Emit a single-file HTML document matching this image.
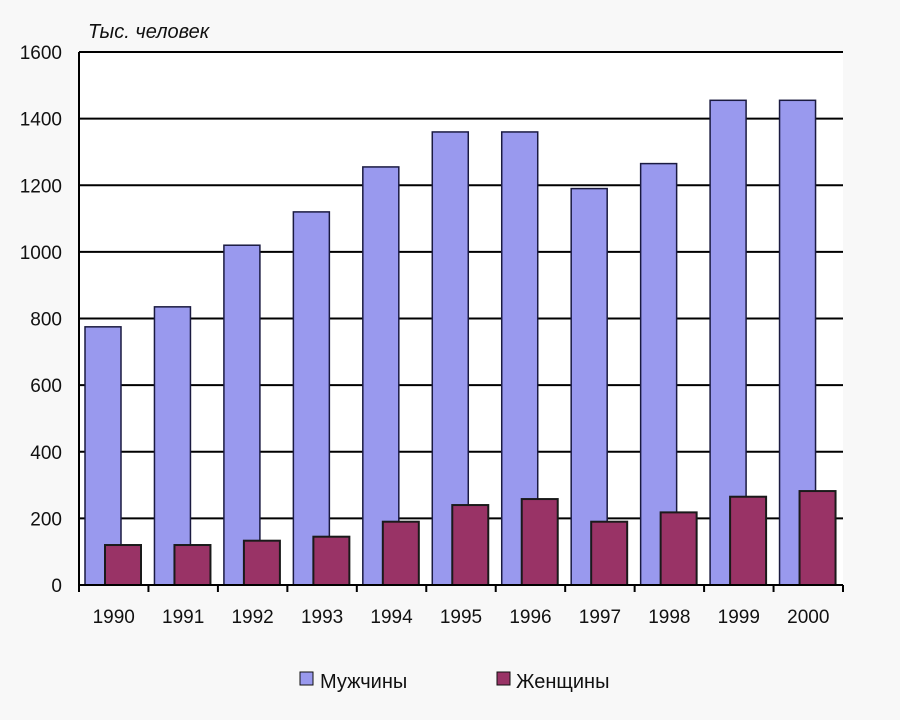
<!DOCTYPE html>
<html><head><meta charset="utf-8"><style>
body{margin:0;background:#f8f8f8;}
svg{display:block;font-family:"Liberation Sans",sans-serif;}
</style></head><body>
<svg id="chart" width="900" height="720">
<rect x="79" y="52" width="764" height="533" fill="#fff"/>
<text x="88" y="38" font-size="20" font-style="italic" fill="#111">Тыс. человек</text>
<g id="grid"></g><g id="bars"></g><g id="axes"></g>
<g>
<rect x="300" y="672" width="13" height="13" fill="#9999ee" stroke="#111"/>
<text x="320" y="688" font-size="20" fill="#111">Мужчины</text>
<rect x="497" y="672" width="13" height="13" fill="#993366" stroke="#111"/>
<text x="516" y="688" font-size="20" fill="#111">Женщины</text>
</g>
</svg>
<script>
const categories=["1990","1991","1992","1993","1994","1995","1996","1997","1998","1999","2000"];
const men=[775,835,1020,1120,1255,1360,1360,1190,1265,1455,1455];
const women=[120,120,133,145,190,240,258,190,218,265,282];
const ticks=[0,200,400,600,800,1000,1200,1400,1600];
const NS="http://www.w3.org/2000/svg";
const X0=79,X1=843,Y0=585,Y1=52,MAX=1600;
const cw=(X1-X0)/categories.length;
const y=v=>Y0-(v/MAX)*(Y0-Y1);
const x=i=>X0+i*cw;
function mk(t,a,p){const e=document.createElementNS(NS,t);for(const k in a)e.setAttribute(k,a[k]);p.appendChild(e);return e;}
const grid=document.getElementById('grid'),bars=document.getElementById('bars'),axes=document.getElementById('axes');
ticks.forEach(t=>{
 if(t>0){const l=mk('line',{x1:X0,x2:X1,y1:y(t),y2:y(t),stroke:'#000','stroke-width':2},grid);
 
 }
 const tx=mk('text',{x:62,y:y(t)+7,'font-size':19,'text-anchor':'end',fill:'#111'},axes);tx.textContent=t;
 
 
});
categories.forEach((c,i)=>{
 const b=mk('rect',{x:x(i)+6,y:y(men[i]),width:36,height:Y0-y(men[i]),fill:'#9999ee',stroke:'#1a1a40','stroke-width':1.5},bars);
 
 
 const w=mk('rect',{x:x(i)+26,y:y(women[i]),width:36,height:Y0-y(women[i]),fill:'#993366',stroke:'#1a1a1a','stroke-width':2},bars);
 
 
 const tx=mk('text',{x:x(i)+cw/2,y:623,'font-size':19,'text-anchor':'middle',fill:'#111'},axes);tx.textContent=c;
 
 
});
for(let i=0;i<=categories.length;i++){const t=mk('line',{x1:x(i),x2:x(i),y1:Y0,y2:Y0+7,stroke:'#000','stroke-width':2},axes);
 
 }
const ya=mk('line',{x1:X0,x2:X0,y1:Y1,y2:Y0,stroke:'#000','stroke-width':2},axes);


const xa=mk('line',{x1:X0,x2:X1,y1:Y0,y2:Y0,stroke:'#000','stroke-width':2},axes);


</script>
</body></html>
